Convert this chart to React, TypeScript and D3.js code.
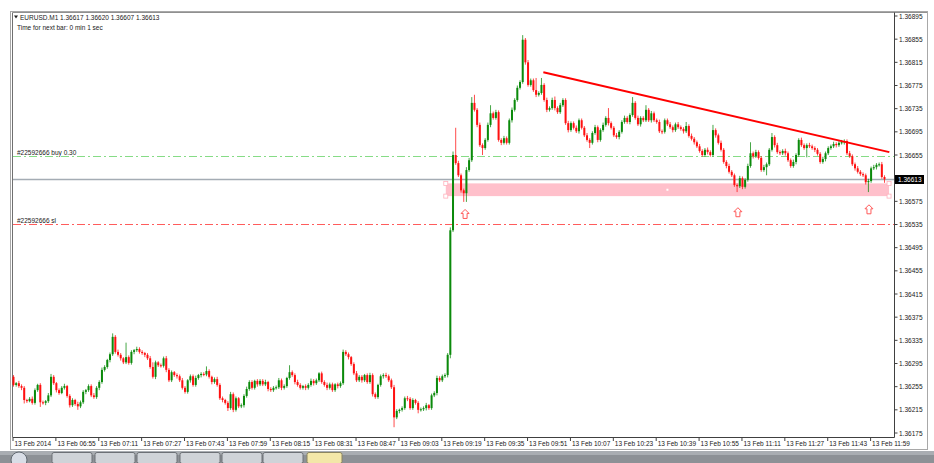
import React from "react";
import * as d3 from "d3";

// ---- DATA (prices in points above 1.36000, 1 point = 0.00001) ----
const BASE = 1.36;
const PT = 0.00001;
const firstOpen = 272;
const closes = [
  258, 261, 256, 253, 232, 230, 234, 227, 249, 258,
  228, 227, 230, 240, 272, 261, 249, 244, 253, 256,
  239, 223, 232, 225, 221, 228, 246, 249, 256, 240,
  237, 253, 263, 284, 289, 301, 311, 341, 315, 310,
  304, 297, 306, 296, 315, 318, 320, 315, 313, 310,
  304, 289, 272, 297, 292, 291, 304, 284, 266, 280,
  275, 273, 266, 253, 246, 266, 273, 258, 270, 275,
  277, 276, 282, 272, 263, 268, 258, 235, 232, 227,
  218, 242, 215, 235, 221, 223, 239, 251, 263, 253,
  265, 259, 265, 259, 263, 251, 249, 253, 254, 266,
  253, 256, 270, 280, 275, 263, 258, 253, 256, 253,
  258, 265, 261, 266, 278, 263, 258, 253, 259, 249,
  259, 256, 261, 315, 311, 306, 294, 278, 266, 272,
  266, 275, 263, 275, 242, 237, 258, 273, 275, 273,
  266, 254, 202, 213, 215, 218, 235, 234, 218, 232,
  227, 215, 216, 218, 223, 218, 240, 244, 270, 266,
  273, 275, 310, 525, 655, 641, 620, 594, 589, 629,
  646, 745, 733, 707, 672, 667, 681, 707, 727, 719,
  729, 681, 676, 684, 676, 715, 733, 750, 771, 781,
  854, 815, 776, 784, 767, 759, 762, 776, 750, 733,
  736, 750, 736, 729, 741, 750, 710, 698, 710, 702,
  696, 715, 702, 689, 681, 676, 693, 703, 681, 698,
  707, 719, 710, 702, 689, 686, 695, 712, 719, 712,
  724, 745, 719, 708, 719, 715, 733, 715, 727, 715,
  712, 696, 695, 715, 708, 703, 698, 708, 703, 700,
  696, 705, 688, 683, 677, 670, 662, 655, 664, 660,
  655, 698, 689, 676, 664, 643, 636, 626, 620, 603,
  601, 615, 600, 612, 636, 658, 653, 660, 650, 629,
  634, 639, 664, 686, 672, 660, 658, 662, 658, 646,
  636, 643, 655, 681, 672, 667, 672, 670, 667, 664,
  657, 643, 648, 658, 667, 670, 674, 672, 676, 677,
  679, 658, 653, 639, 632, 626, 622, 620, 608, 610,
  632, 634, 638, 639, 617, 613,
];
const upperWicks = [
  3, 2, 4, 3, 3, 2, 3, 4, 3, 2,
  3, 3, 2, 4, 5, 3, 2, 3, 3, 4,
  2, 3, 3, 2, 4, 3, 3, 2, 3, 3,
  4, 3, 3, 4, 3, 2, 3, 6, 3, 4,
  3, 2, 25, 3, 3, 2, 4, 3, 3, 2,
  3, 4, 8, 3, 2, 3, 3, 4, 3, 3,
  2, 3, 3, 4, 3, 2, 3, 3, 4, 2,
  3, 3, 8, 3, 2, 3, 4, 3, 3, 2,
  3, 4, 3, 3, 2, 3, 3, 4, 3, 3,
  2, 3, 3, 3, 4, 2, 3, 3, 3, 4,
  3, 3, 2, 12, 3, 3, 4, 3, 2, 3,
  3, 4, 3, 3, 2, 3, 3, 4, 3, 3,
  2, 3, 3, 4, 3, 3, 2, 3, 4, 3,
  3, 2, 3, 4, 3, 3, 2, 3, 3, 4,
  3, 3, 4, 3, 2, 3, 3, 4, 3, 3,
  2, 3, 3, 3, 4, 2, 3, 3, 4, 3,
  3, 3, 3, 5, 6, 47, 4, 3, 3, 5,
  4, 10, 14, 3, 4, 3, 3, 4, 14, 3,
  4, 3, 3, 4, 3, 3, 4, 3, 4, 3,
  8, 3, 4, 3, 3, 21, 3, 12, 3, 4,
  3, 4, 6, 3, 4, 3, 3, 4, 3, 3,
  4, 3, 3, 3, 4, 3, 3, 4, 3, 3,
  4, 3, 17, 3, 3, 4, 3, 3, 4, 3,
  3, 10, 3, 4, 3, 3, 8, 3, 4, 3,
  3, 4, 3, 3, 3, 4, 3, 3, 4, 3,
  3, 7, 3, 4, 3, 3, 4, 3, 3, 4,
  3, 9, 3, 3, 4, 3, 3, 4, 3, 3,
  3, 4, 3, 3, 4, 19, 3, 4, 3, 3,
  4, 3, 3, 7, 3, 4, 3, 3, 4, 3,
  3, 4, 3, 3, 4, 3, 3, 4, 3, 3,
  3, 3, 4, 3, 3, 3, 4, 3, 3, 4,
  3, 3, 4, 3, 3, 4, 3, 3, 3, 4,
  3, 4, 3, 3, 4, 3,
];
const lowerWicks = [
  3, 3, 3, 4, 6, 3, 2, 3, 3, 3,
  8, 3, 4, 3, 3, 3, 4, 3, 2, 3,
  3, 4, 3, 3, 6, 3, 3, 4, 3, 3,
  3, 3, 4, 3, 3, 3, 4, 3, 3, 3,
  4, 3, 3, 3, 3, 4, 3, 3, 3, 4,
  3, 3, 3, 4, 3, 3, 3, 4, 3, 3,
  3, 4, 3, 3, 3, 3, 4, 3, 3, 3,
  4, 3, 3, 3, 4, 3, 3, 3, 4, 3,
  5, 3, 4, 3, 3, 3, 4, 3, 3, 3,
  3, 4, 3, 3, 3, 4, 3, 3, 3, 3,
  4, 3, 3, 3, 3, 4, 3, 3, 3, 4,
  3, 3, 4, 3, 3, 3, 3, 4, 3, 3,
  3, 4, 3, 3, 3, 4, 3, 3, 3, 3,
  4, 3, 3, 3, 4, 3, 3, 3, 4, 3,
  3, 3, 17, 3, 4, 3, 3, 4, 3, 3,
  3, 6, 3, 3, 4, 3, 3, 3, 4, 3,
  3, 3, 4, 6, 3, 3, 3, 4, 15, 15,
  3, 3, 3, 4, 3, 12, 3, 3, 4, 3,
  3, 3, 4, 3, 3, 3, 4, 3, 3, 3,
  3, 4, 3, 3, 3, 4, 3, 3, 3, 4,
  3, 3, 4, 3, 3, 3, 3, 4, 3, 3,
  3, 4, 3, 3, 3, 9, 3, 3, 4, 3,
  3, 3, 4, 3, 3, 3, 4, 3, 3, 3,
  4, 3, 3, 3, 4, 3, 3, 3, 4, 3,
  3, 3, 4, 3, 3, 3, 4, 3, 3, 3,
  4, 3, 3, 3, 4, 3, 3, 3, 3, 4,
  3, 3, 4, 3, 3, 3, 4, 3, 3, 3,
  10, 3, 4, 3, 3, 3, 4, 3, 3, 3,
  3, 14, 3, 3, 4, 3, 3, 3, 4, 3,
  3, 3, 4, 3, 3, 3, 16, 3, 3, 4,
  3, 3, 3, 4, 3, 3, 3, 4, 3, 3,
  4, 3, 3, 3, 4, 3, 3, 3, 4, 17,
  3, 3, 4, 3, 3, 6,
];

const timeLabelBars = [0, 16, 32, 48, 64, 80, 96, 112, 128, 144, 160, 176, 192, 208, 224, 240, 256, 272, 288, 304, 320];
const timeLabels = [
  "13 Feb 2014", "13 Feb 06:55", "13 Feb 07:11", "13 Feb 07:27", "13 Feb 07:43", "13 Feb 07:59",
  "13 Feb 08:15", "13 Feb 08:31", "13 Feb 08:47", "13 Feb 09:03", "13 Feb 09:19", "13 Feb 09:35",
  "13 Feb 09:51", "13 Feb 10:07", "13 Feb 10:23", "13 Feb 10:39", "13 Feb 10:55", "13 Feb 11:11",
  "13 Feb 11:27", "13 Feb 11:43", "13 Feb 11:59",
];
const priceTicks = [
  1.36895, 1.36855, 1.36815, 1.36775, 1.36735, 1.36695, 1.36655, 1.36575, 1.36535,
  1.36495, 1.36455, 1.36415, 1.36375, 1.36335, 1.36295, 1.36255, 1.36215, 1.36175,
];
const currentPrice = 1.36613;
const buyPrice = 1.36654;
const slPrice = 1.36535;
const headerText = "EURUSD.M1  1.36617 1.36620 1.36607 1.36613";
const timerText = "Time for next bar: 0 min 1 sec";
const buyLabel = "#22592666 buy 0.30";
const slLabel = "#22592666 sl";
const zoneBars = [161.3, 326.7];
const zonePrices = [1.36606, 1.36584];
const trendBars = [197.7, 326.8];
const trendPrices = [1.36798, 1.3666];
const arrowBars = [168.5, 270.3, 319.2];
const arrowPrices = [1.36561, 1.36564, 1.36569];

const FONT = "'Liberation Sans', Arial, sans-serif";

export default function App() {
  const n = closes.length;
  const x = d3.scaleLinear().domain([0, n - 1]).range([13.5, 884.5]);
  const y = d3.scaleLinear().domain([1.36175, 1.36895]).range([433, 16]);
  const snap = (v: number) => Math.round(v) + 0.5;

  const candles = closes.map((c, i) => {
    const o = i === 0 ? firstOpen : closes[i - 1];
    const hi = Math.max(o, c) + upperWicks[i];
    const lo = Math.min(o, c) - lowerWicks[i];
    return { o: BASE + o * PT, c: BASE + c * PT, h: BASE + hi * PT, l: BASE + lo * PT, i };
  });

  const GREEN = "#0b8a0b";
  const RED = "#ff1010";
  const line = d3.line<[number, number]>().x((d) => d[0]).y((d) => d[1]);

  const arrowPath = (cx: number, ty: number) =>
    `M${cx},${ty} L${cx + 4},${ty + 4} L${cx + 2},${ty + 4} L${cx + 2},${ty + 9} L${cx - 2},${ty + 9} L${cx - 2},${ty + 4} L${cx - 4},${ty + 4} Z`;

  const zx0 = x(zoneBars[0]);
  const zx1 = x(zoneBars[1]);
  const zy0 = y(zonePrices[0]);
  const zy1 = y(zonePrices[1]);
  const cpY = snap(y(currentPrice));
  const buyY = snap(y(buyPrice));
  const slY = snap(y(slPrice));

  const taskButtons = [52, 95, 137, 180, 222, 263];

  return (
    <svg
      width={934}
      height={463}
      style={{ position: "absolute", left: 0, top: 0, display: "block", background: "#fff" }}
      fontFamily={FONT}
    >
      <rect x={0} y={0} width={934} height={463} fill="#ffffff" />
      {/* window frame */}
      <rect x={10.5} y={11.5} width={917} height={438} fill="none" stroke="#a8a8a8" strokeWidth={1} />
      <line x1={12.5} y1={12.5} x2={12.5} y2={437} stroke="#707070" />
      <line x1={12.5} y1={12.5} x2={927} y2={12.5} stroke="#909090" />

      {/* plot border */}
      <line x1={894.5} y1={12.5} x2={894.5} y2={437.5} stroke="#404040" />
      <line x1={12.5} y1={437.5} x2={894.5} y2={437.5} stroke="#404040" />

      {/* horizontal order lines */}
      <line x1={13} x2={894} y1={buyY} y2={buyY} stroke="#86dc86" strokeWidth={1} strokeDasharray="8,3,2,3" />
      <line x1={13} x2={894} y1={slY} y2={slY} stroke="#ff5c5c" strokeWidth={1} strokeDasharray="8,3,2,3" />
      <text x={17} y={buyY - 2} fontSize={6.5} fill="#202020">{buyLabel}</text>
      <text x={17} y={slY - 2} fontSize={6.5} fill="#202020">{slLabel}</text>

      {/* support zone */}
      <rect x={zx0} y={zy0} width={zx1 - zx0} height={zy1 - zy0} fill="#ffc0cb" />
      {[[zx0, zy0], [zx0, zy1], [zx1, zy0], [zx1, zy1]].map(([cx, cy], k) => (
        <rect key={k} x={cx - 2} y={cy - 2} width={4} height={4} fill="#fff" stroke="#ffb0bc" strokeWidth={0.8} />
      ))}
      <rect x={(zx0 + zx1) / 2 - 1} y={(zy0 + zy1) / 2 - 1} width={2} height={2} fill="#fff" />

      {/* current price line */}
      <line x1={13} x2={894} y1={cpY} y2={cpY} stroke="#a4acb4" strokeWidth={1.4} />

      {/* candles */}
      <g>
        {candles.map((d) => {
          const cx = x(d.i);
          const up = d.c >= d.o;
          const col = up ? GREEN : RED;
          const top = y(Math.max(d.o, d.c));
          const bot = y(Math.min(d.o, d.c));
          return (
            <g key={d.i}>
              <line x1={cx} x2={cx} y1={y(d.h)} y2={y(d.l)} stroke={col} strokeWidth={1} opacity={0.75} />
              <rect x={cx - 1} y={top} width={2} height={Math.max(1, bot - top)} fill={col} />
            </g>
          );
        })}
      </g>

      {/* trend line */}
      <path
        d={line([[x(trendBars[0]), y(trendPrices[0])], [x(trendBars[1]), y(trendPrices[1])]]) || ""}
        stroke="#ff0000"
        strokeWidth={2}
        fill="none"
      />

      {/* arrows */}
      {arrowBars.map((b, k) => (
        <path key={k} d={arrowPath(x(b), y(arrowPrices[k]))} fill="#fff" stroke="#ff5a5a" strokeWidth={1} />
      ))}

      {/* header */}
      <path d="M14,15.5 L18,15.5 L16,18.5 Z" fill="#202020" />
      <text x={20} y={19.5} fontSize={6.5} fill="#202020">{headerText}</text>
      <text x={17} y={29.5} fontSize={6.5} fill="#202020">{timerText}</text>

      {/* price axis */}
      {priceTicks.map((p) => (
        <g key={p}>
          <line x1={894.5} x2={897.5} y1={y(p)} y2={y(p)} stroke="#404040" />
          <text x={899} y={y(p) + 2.5} fontSize={6.5} fill="#202020">{p.toFixed(5)}</text>
        </g>
      ))}
      <rect x={895} y={cpY - 4.5} width={29} height={9} fill="#000" />
      <text x={898} y={cpY + 2.5} fontSize={6.5} fill="#fff">{currentPrice.toFixed(5)}</text>

      {/* time axis */}
      {timeLabelBars.map((b, k) => {
        const tx = k === 0 ? 13 : x(b) - 0.5;
        return (
          <g key={b}>
            <line x1={tx} x2={tx} y1={437.5} y2={441} stroke="#404040" />
            <text x={tx + 1.5} y={446} fontSize={6.5} fill="#202020">{timeLabels[k]}</text>
          </g>
        );
      })}

      {/* bottom bar */}
      <rect x={0} y={451} width={934} height={12} fill="#8d9196" />
      <rect x={0} y={451} width={934} height={4} fill="#a9adb2" />
      <circle cx={19} cy={460} r={8} fill="#d8dde6" stroke="#606870" />
      {taskButtons.map((bx, k) => (
        <rect key={k} x={bx} y={452.5} width={40} height={11} rx={2} fill="#cfd3d8" stroke="#6c7076" />
      ))}
      <rect x={307} y={452.5} width={35} height={11} rx={2} fill="#f3e7a8" stroke="#8a8460" />
    </svg>
  );
}
